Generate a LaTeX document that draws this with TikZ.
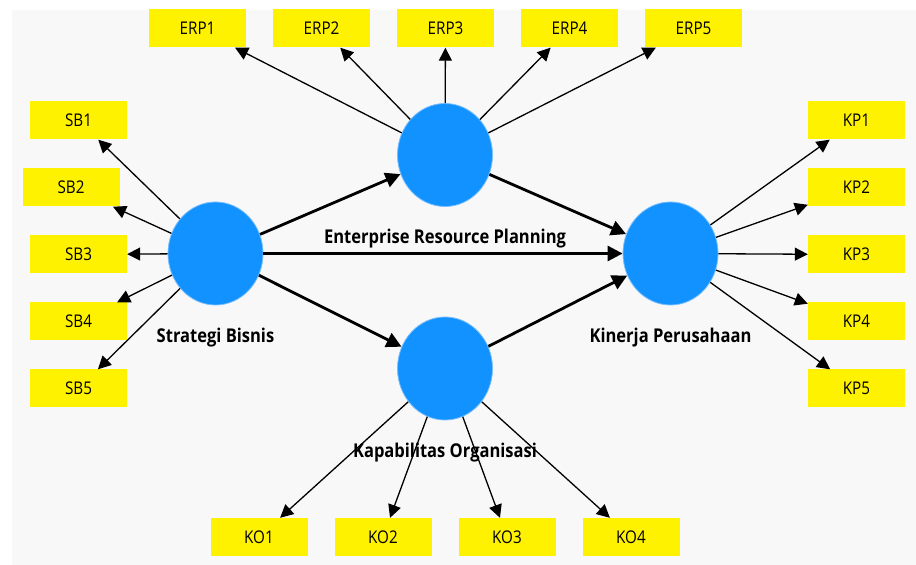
\documentclass[tikz,border=0pt]{standalone}
\usepackage{fontspec}
\setmainfont{Open Sans}[FakeStretch=0.87]
\usetikzlibrary{shapes,arrows.meta,backgrounds,positioning}
\definecolor{lvblue}{RGB}{18,146,255}
\definecolor{lvedge}{RGB}{120,190,255}
\definecolor{canvas}{RGB}{248,248,248}
\tikzstyle{latent} = [ellipse, draw=lvedge, line width=0.8pt, fill=lvblue,
    minimum width=95pt, minimum height=103pt, inner sep=0pt]
\tikzstyle{indicator} = [rectangle, fill=yellow, minimum width=97pt,
    minimum height=38pt, inner sep=0pt, font=\fontsize{17.5}{20}\selectfont]
\tikzstyle{lvname} = [font=\fontsize{19}{22}\selectfont\bfseries]
\tikzstyle{load} = [draw, line width=1.3pt, -{Triangle[length=13pt,width=13pt]}]
\tikzstyle{inner} = [draw, line width=2.8pt, -{Triangle[length=15pt,width=15pt]}]

\begin{document}
\begin{tikzpicture}[x=1pt, y=1pt, node distance=124pt]
  \useasboundingbox (0,0) rectangle (916,565);
  \fill[canvas] (12,0) rectangle (916,555);

  % Place latent variables
  \node [latent] (sb) at (215.5,311.5) {};
  \node [latent] (erp) at (445,410) {};
  \node [latent] (kp) at (670.5,311.5) {};
  \node [latent] (ko) at (445,196.5) {};

  \node [lvname, below of=sb, node distance=84.5pt] (sbname) {Strategi Bisnis};
  \node [lvname, below of=erp, node distance=84pt] (erpname) {Enterprise Resource Planning};
  \node [lvname, below of=kp, node distance=84.5pt] (kpname) {Kinerja Perusahaan};
  \node [lvname, below of=ko, node distance=84.5pt] (koname) {Kapabilitas Organisasi};

  % Indicators
  \node [indicator] (erp1) at (197.5,536.5) {ERP1};
  \node [indicator, right of=erp1] (erp2) {ERP2};
  \node [indicator, right of=erp2] (erp3) {ERP3};
  \node [indicator, right of=erp3] (erp4) {ERP4};
  \node [indicator, right of=erp4] (erp5) {ERP5};

  \node [indicator] (sb1) at (78.5,444.5) {SB1};
  \node [indicator] (sb2) at (71,377.5) {SB2};
  \node [indicator] (sb3) at (78.5,310.5) {SB3};
  \node [indicator] (sb4) at (78.5,243.5) {SB4};
  \node [indicator] (sb5) at (78.5,176.5) {SB5};

  \node [indicator] (kp1) at (856.5,444.5) {KP1};
  \node [indicator, below of=kp1, node distance=67pt] (kp2) {KP2};
  \node [indicator, below of=kp2, node distance=67pt] (kp3) {KP3};
  \node [indicator, below of=kp3, node distance=67pt] (kp4) {KP4};
  \node [indicator, below of=kp4, node distance=67pt] (kp5) {KP5};

  \node [indicator] (ko1) at (259,28) {KO1};
  \node [indicator, right of=ko1] (ko2) {KO2};
  \node [indicator, right of=ko2] (ko3) {KO3};
  \node [indicator, right of=ko3] (ko4) {KO4};

  % Loadings
  \path [load] (erp) -- (erp1);
  \path [load] (erp) -- (erp2);
  \path [load] (erp) -- (erp3);
  \path [load] (erp) -- (erp4);
  \path [load] (erp) -- (erp5);
  \path [load] (sb) -- (sb1);
  \path [load] (sb) -- (sb2);
  \path [load] (sb) -- (sb3);
  \path [load] (sb) -- (sb4);
  \path [load] (sb) -- (sb5);
  \path [load] (kp) -- (kp1);
  \path [load] (kp) -- (kp2);
  \path [load] (kp) -- (kp3);
  \path [load] (kp) -- (kp4);
  \path [load] (kp) -- (kp5);
  \path [load] (ko) -- (ko1);
  \path [load] (ko) -- (ko2);
  \path [load] (ko) -- (ko3);
  \path [load] (ko) -- (ko4);

  % Inner model
  \path [inner] (sb) -- (erp);
  \path [inner] (sb) -- (kp);
  \path [inner] (sb) -- (ko);
  \path [inner] (erp) -- (kp);
  \path [inner] (ko) -- (kp);
\end{tikzpicture}
\end{document}
